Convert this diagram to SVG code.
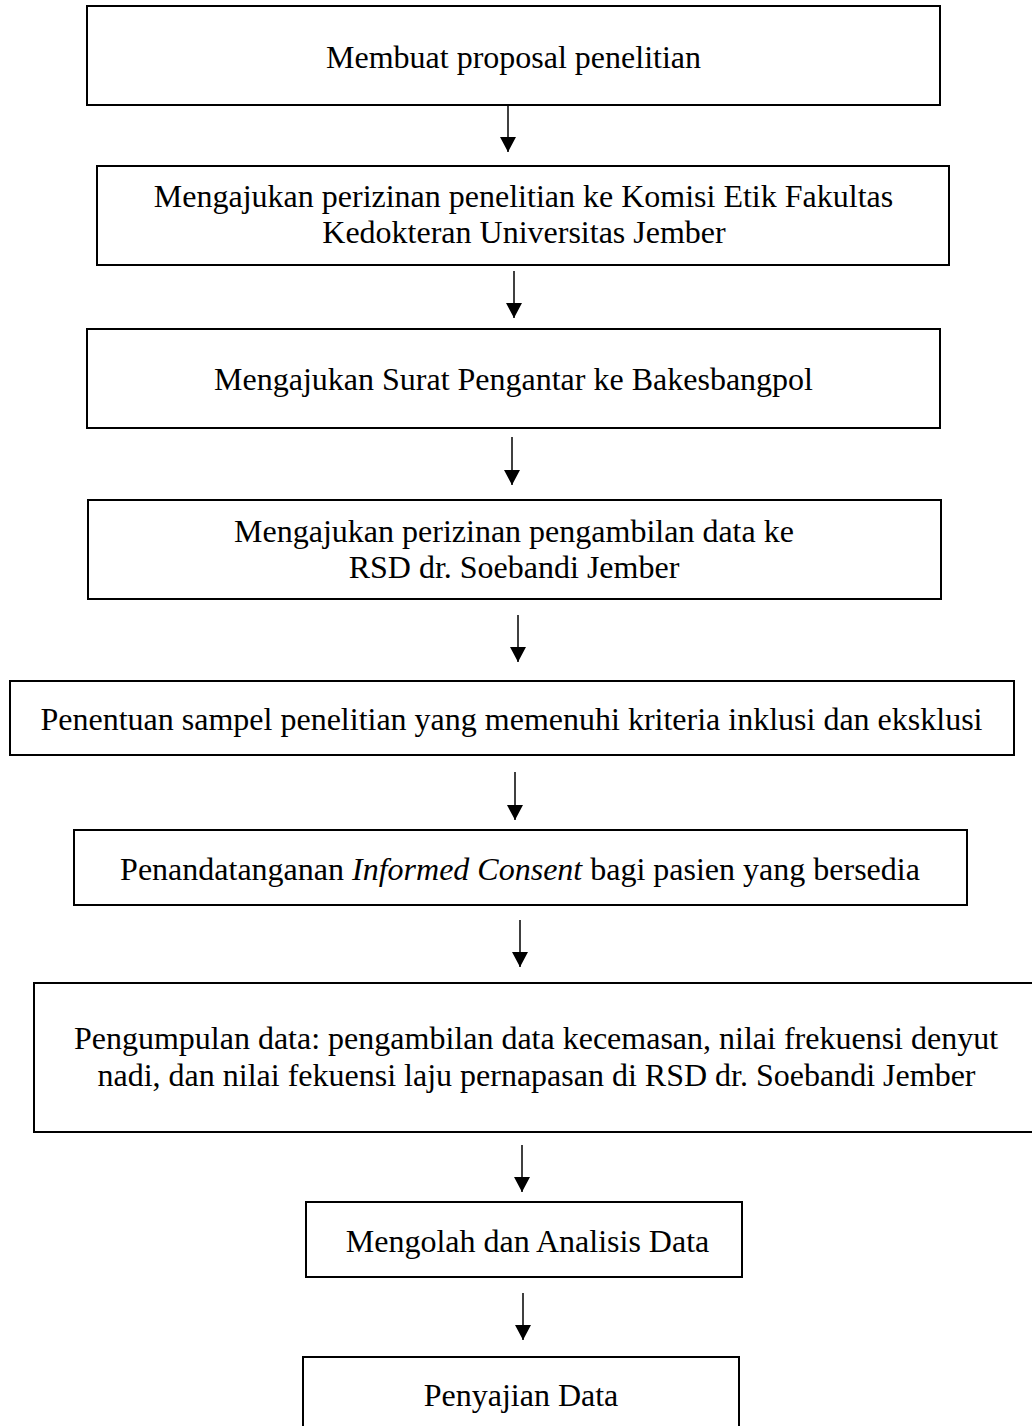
<svg xmlns="http://www.w3.org/2000/svg" width="1032" height="1426" viewBox="0 0 1032 1426">
<style>
.box{fill:#fff;stroke:#000;stroke-width:2}
.t{font-family:"Liberation Serif","Times New Roman",serif;font-size:32px;fill:#000;text-anchor:middle}
.c{stroke:#000;stroke-width:1.5;fill:none;marker-end:url(#ah)}
</style>
<defs>
<marker id="ah" viewBox="0 0 15 16" refX="15" refY="8" markerWidth="15" markerHeight="16" markerUnits="userSpaceOnUse" orient="auto">
<path d="M0,0 L15,8 L0,16 z" fill="#000"/>
</marker>
</defs>
<rect width="1032" height="1426" fill="#fff"/>
<g id="n1"><rect class="box" x="87" y="6" width="853" height="99"/><text class="t" x="513.5" y="68">Membuat proposal penelitian</text></g>
<g id="n2"><rect class="box" x="97" y="166" width="852" height="99"/><text class="t" x="523.5" y="207">Mengajukan perizinan penelitian ke Komisi Etik Fakultas</text><text class="t" x="524" y="243">Kedokteran Universitas Jember</text></g>
<g id="n3"><rect class="box" x="87" y="329" width="853" height="99"/><text class="t" x="513.5" y="390">Mengajukan Surat Pengantar ke Bakesbangpol</text></g>
<g id="n4"><rect class="box" x="88" y="500" width="853" height="99"/><text class="t" x="514" y="542">Mengajukan perizinan pengambilan data ke</text><text class="t" x="514" y="578">RSD dr. Soebandi Jember</text></g>
<g id="n5"><rect class="box" x="10" y="681" width="1004" height="74"/><text class="t" x="511.5" y="730">Penentuan sampel penelitian yang memenuhi kriteria inklusi dan eksklusi</text></g>
<g id="n6"><rect class="box" x="74" y="830" width="893" height="75"/><text class="t" x="520" y="880">Penandatanganan <tspan font-style="italic">Informed Consent</tspan> bagi pasien yang bersedia</text></g>
<g id="n7"><rect class="box" x="34" y="983" width="1006" height="149"/><text class="t" x="536" y="1049">Pengumpulan data: pengambilan data kecemasan, nilai frekuensi denyut</text><text class="t" x="536.5" y="1086">nadi, dan nilai fekuensi laju pernapasan di RSD dr. Soebandi Jember</text></g>
<g id="n8"><rect class="box" x="306" y="1202" width="436" height="75"/><text class="t" x="527.5" y="1252">Mengolah dan Analisis Data</text></g>
<g id="n9"><rect class="box" x="303" y="1357" width="436" height="90"/><text class="t" x="521" y="1406">Penyajian Data</text></g>
<g id="connectors">
<line class="c" x1="508" y1="105" x2="508" y2="152"/>
<line class="c" x1="514" y1="271" x2="514" y2="318"/>
<line class="c" x1="512" y1="437" x2="512" y2="485"/>
<line class="c" x1="518" y1="615" x2="518" y2="662"/>
<line class="c" x1="515" y1="772" x2="515" y2="820"/>
<line class="c" x1="520" y1="920" x2="520" y2="967"/>
<line class="c" x1="522" y1="1145" x2="522" y2="1192"/>
<line class="c" x1="523" y1="1293" x2="523" y2="1340"/>
</g>
</svg>
